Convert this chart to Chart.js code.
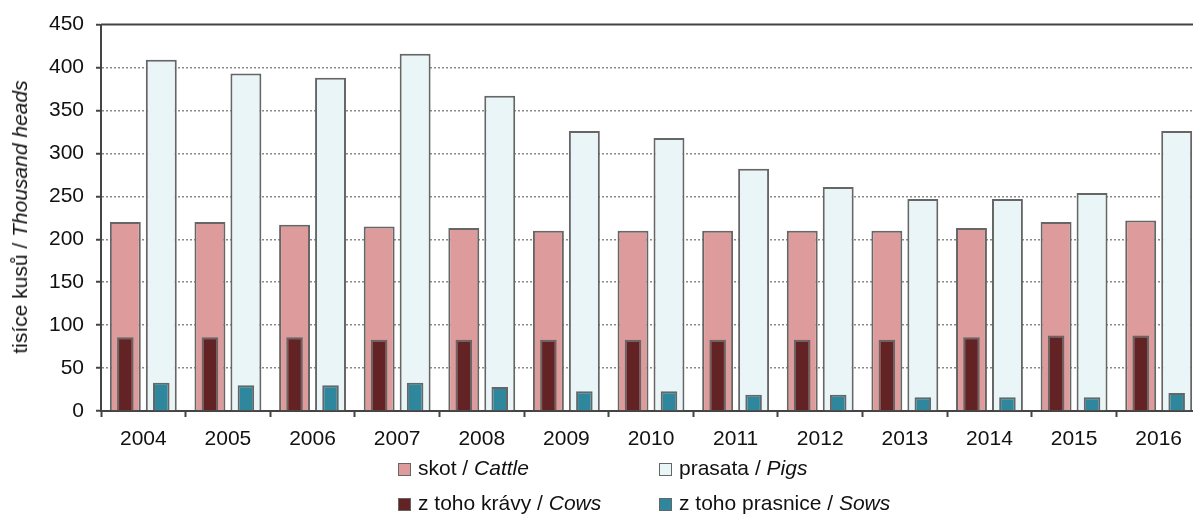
<!DOCTYPE html>
<html lang="cs">
<head>
    <meta charset="UTF-8">
    <title>Skot a prasata</title>
    <script src="https://cdn.jsdelivr.net/npm/chart.js"></script>
    <style>
        body {
            margin: 0;
            padding: 0;
            background: #fff;
            overflow: hidden;
            font-family: "Liberation Sans", Arial, sans-serif;
        }
        .wrap {
            position: relative;
            width: 1193px;
            height: 515px;
            overflow: hidden;
        }
        .ytitle {
            position: absolute;
            left: 20px;
            top: 217px;
            transform: translate(-50%, -50%) rotate(-90deg);
            white-space: nowrap;
            font-size: 21px;
            color: #111;
        }
        .legend-item {
            position: absolute;
            font-size: 21px;
            color: #111;
            white-space: nowrap;
            line-height: 21px;
        }
        .legend-item span.box {
            display: inline-block;
            width: 11px;
            height: 11px;
            border: 1.5px solid #666;
            margin-right: 7px;
            vertical-align: -1px;
        }
    </style>
</head>
<body>
    <div class="wrap">
        <!-- the plot runs a few pixels past the right edge, as in the source -->
        <canvas id="animals" width="1201" height="515"></canvas>
        <div class="ytitle">tisíce kusů / <i>Thousand heads</i></div>
        <div class="legend-item" style="left:398px; top:457px;"><span class="box" style="background:#dd9b9c"></span>skot / <i>Cattle</i></div>
        <div class="legend-item" style="left:659px; top:457px;"><span class="box" style="background:#eaf5f7"></span>prasata / <i>Pigs</i></div>
        <div class="legend-item" style="left:398px; top:492px;"><span class="box" style="background:#632324"></span>z toho krávy / <i>Cows</i></div>
        <div class="legend-item" style="left:659px; top:492px;"><span class="box" style="background:#2e879d"></span>z toho prasnice / <i>Sows</i></div>
    </div>

    <script>
        const years = ["2004", "2005", "2006", "2007", "2008", "2009", "2010", "2011", "2012", "2013", "2014", "2015", "2016"];
        const cattle = [220, 220, 217, 215, 213, 210, 210, 210, 210, 210, 213, 220, 222];
        const pigs = [409, 393, 388, 416, 367, 326, 318, 282, 261, 247, 247, 254, 326];
        const cows = [86, 86, 86, 83, 83, 83, 83, 83, 83, 83, 86, 88, 88];
        const sows = [33, 30, 30, 33, 28, 23, 23, 19, 19, 16, 16, 16, 21];

        const axisColor = "#444";

        // solid top edge of the plot
        const topLine = {
            id: "topLine",
            afterDraw(chart) {
                const a = chart.chartArea;
                const c = chart.ctx;
                c.save();
                c.strokeStyle = axisColor;
                c.lineWidth = 2;
                c.beginPath();
                c.moveTo(a.left, a.top);
                c.lineTo(a.right, a.top);
                c.stroke();
                c.restore();
            }
        };

        // cattle+cows share one slot, pigs+sows the other (stack names), values are not stacked
        const wide = { categoryPercentage: 0.85, barPercentage: 0.86, borderColor: "#666", borderWidth: 2, order: 2 };
        const narrow = { categoryPercentage: 0.85, barPercentage: 0.46, borderColor: "#666", borderWidth: 2, order: 1 };

        new Chart(document.getElementById("animals"), {
            type: "bar",
            data: {
                labels: years,
                datasets: [
                    { ...wide, label: "skot / Cattle", data: cattle, backgroundColor: "#dd9b9c", stack: "c" },
                    { ...wide, label: "prasata / Pigs", data: pigs, backgroundColor: "#eaf5f7", stack: "p" },
                    { ...narrow, label: "z toho krávy / Cows", data: cows, backgroundColor: "#632324", stack: "c" },
                    { ...narrow, label: "z toho prasnice / Sows", data: sows, backgroundColor: "#2e879d", stack: "p" }
                ]
            },
            options: {
                responsive: false,
                animation: false,
                layout: { padding: { top: 22, right: 0, left: 0, bottom: 0 } },
                plugins: { legend: { display: false }, tooltip: { enabled: false } },
                scales: {
                    x: {
                        offset: true,
                        grid: { offset: true, drawOnChartArea: false, tickLength: 6, tickColor: axisColor, tickWidth: 2 },
                        border: { color: axisColor, width: 2 },
                        ticks: { color: "#111", font: { family: "Liberation Sans", size: 21 }, padding: 10, maxRotation: 0 },
                        afterFit(s) { s.height = 104; }
                    },
                    y: {
                        stacked: false,
                        min: 0,
                        max: 450,
                        ticks: { stepSize: 50, color: "#111", font: { family: "Liberation Sans", size: 21 }, padding: 12 },
                        grid: {
                            color: (ctx) => (ctx.tick && (ctx.tick.value === 0 || ctx.tick.value === 450)) ? "rgba(0,0,0,0)" : "#8a8a8a",
                            lineWidth: 1.5,
                            tickLength: 5,
                            tickColor: axisColor,
                            tickWidth: 2,
                            tickBorderDash: []
                        },
                        border: { color: axisColor, width: 2, dash: [2, 2] },
                        afterFit(s) { s.width = 101; }
                    }
                }
            },
            plugins: [topLine]
        });
    </script>
</body>
</html>
